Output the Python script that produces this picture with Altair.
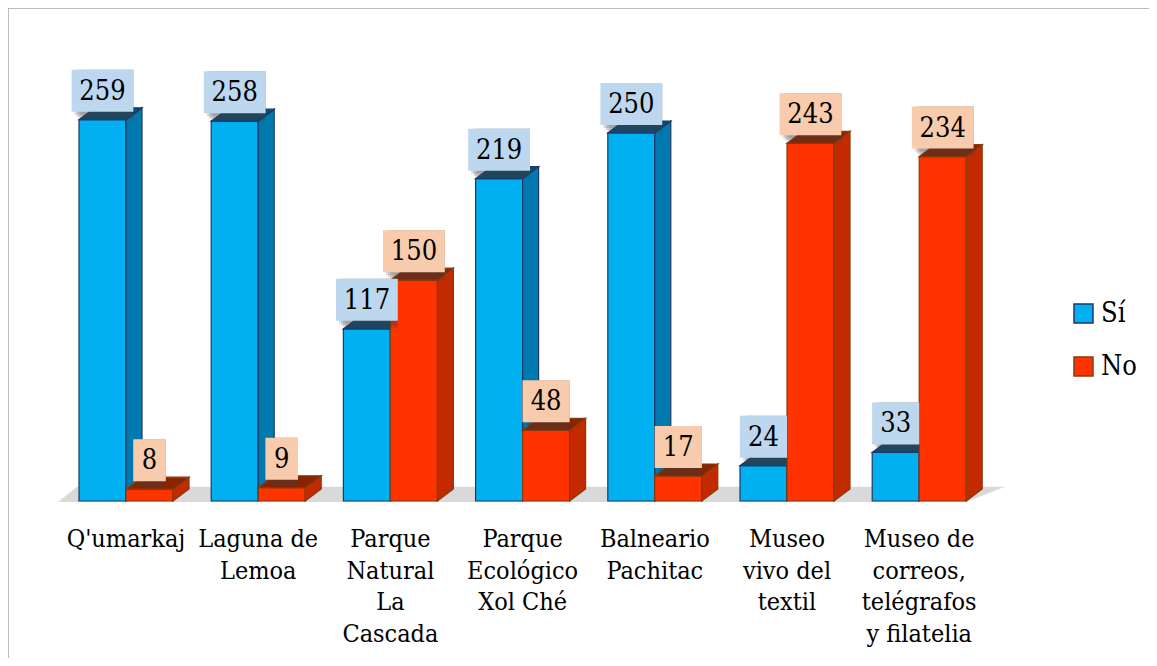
import altair as alt
import pandas as pd

# ---------------- data ----------------
categories = ["Q'umarkaj", "Laguna de\nLemoa", "Parque\nNatural\nLa\nCascada",
              "Parque\nEcológico\nXol Ché", "Balneario\nPachitac",
              "Museo\nvivo del\ntextil", "Museo de\ncorreos,\ntelégrafos\ny filatelia"]
series = ["Sí", "No"]
si_values = [259, 258, 117, 219, 250, 24, 33]
no_values = [8, 9, 150, 48, 17, 243, 234]

# ---------------- styling / geometry ----------------
FONT = "DejaVu Serif Condensed"
W, H = 1141, 650
PX_X, X0 = 132.2, 118      # px per category, px of first group centre
PX_Y, Y0 = 1.472, 493      # px per unit, px of baseline
x_dom = [-X0 / PX_X, (W - X0) / PX_X]
y_dom = [-(H - Y0) / PX_Y, Y0 / PX_Y]
BW = 47 / PX_X             # bar width
DX = 16 / PX_X             # depth (x)
DY = 12 / PX_Y             # depth (y)

front = {"Sí": "#00B0F0", "No": "#FF3300"}
side_c = {"Sí": "#0079AE", "No": "#C42A00"}
top_c = {"Sí": "#0E4A72", "No": "#8A2300"}
edge = {"Sí": "#1F3864", "No": "#843C0C"}
box_c = {"Sí": "#BDD7EE", "No": "#F8CBAD"}

xs = alt.Scale(domain=x_dom, nice=False, zero=False)
ys = alt.Scale(domain=y_dom, nice=False, zero=False)

bars, sides, tops = [], [], []
for i, cat in enumerate(categories):
    for s, vals in (("Sí", si_values), ("No", no_values)):
        v = vals[i]
        x1 = i - BW if s == "Sí" else i
        x2 = x1 + BW
        xc = (x1 + x2) / 2
        half = (9 + 7.3 * len(str(v))) / PX_X
        bid = f"{s}{i}"
        bars.append(dict(cat=cat, serie=s, bar=bid, v=v, zero=0, x1=x1, x2=x2, xc=xc,
                         label=str(v), bx1=xc - half, bx2=xc + half,
                         by1=v + 8 / PX_Y, by2=v + 50 / PX_Y))
        sides.append(dict(serie=s, bar=bid, sx=x2, slo=0, shi=v))
        sides.append(dict(serie=s, bar=bid, sx=x2 + DX, slo=DY, shi=v + DY))
        tops.append(dict(serie=s, bar=bid, ty=v, tl=x1, tr=x2))
        tops.append(dict(serie=s, bar=bid, ty=v + DY, tl=x1 + DX, tr=x2 + DX))

bars_df = pd.DataFrame(bars)
sides_df = pd.DataFrame(sides)
tops_df = pd.DataFrame(tops)

floor_df = pd.DataFrame({
    "fy": [-0.7, 9.6],
    "fl": [(58 - 126) / PX_X, (77 - 126) / PX_X],
    "fr": [(966 - 126) / PX_X, (1005 - 126) / PX_X],
})

cat_df = pd.DataFrame({"cat": categories, "xc": list(range(len(categories)))})

legend = alt.Legend(orient="none", legendX=1062, legendY=292, title=None,
                    symbolType="square", symbolSize=361, symbolStrokeWidth=1.5,
                    labelFont=FONT, labelFontSize=27, labelColor="black",
                    rowPadding=25, labelOffset=4)
fill_scale = alt.Scale(domain=series, range=[front[s] for s in series])
stroke_scale = alt.Scale(domain=series, range=[edge[s] for s in series])

layers = []

# floor
layers.append(
    alt.Chart(floor_df).mark_area(orient="horizontal", color="#D9D9D9").encode(
        y=alt.Y("fy:Q", scale=ys, axis=None, stack=None),
        x=alt.X("fl:Q", scale=xs, axis=None, stack=None),
        x2="fr:Q",
    )
)

for s in series:
    b = bars_df[bars_df.serie == s]
    sd = sides_df[sides_df.serie == s]
    tp = tops_df[tops_df.serie == s]
    layers.append(
        alt.Chart(b).mark_bar(strokeWidth=1.2).encode(
            x=alt.X("x1:Q", scale=xs, axis=None),
            x2="x2:Q",
            y=alt.Y("zero:Q", scale=ys, axis=None),
            y2="v:Q",
            fill=alt.Fill("serie:N", scale=fill_scale, legend=legend, sort=series),
            stroke=alt.Stroke("serie:N", scale=stroke_scale, legend=legend, sort=series),
        )
    )
    layers.append(
        alt.Chart(sd).mark_area(orient="vertical", color=side_c[s], stroke=edge[s],
                                strokeWidth=1.2).encode(
            x=alt.X("sx:Q", scale=xs, axis=None),
            y=alt.Y("slo:Q", scale=ys, axis=None, stack=None),
            y2="shi:Q",
            detail="bar:N",
        )
    )
    layers.append(
        alt.Chart(tp).mark_area(orient="horizontal", color=top_c[s], stroke=edge[s],
                                strokeWidth=1.2).encode(
            y=alt.Y("ty:Q", scale=ys, axis=None),
            x=alt.X("tl:Q", scale=xs, axis=None, stack=None),
            x2="tr:Q",
            detail="bar:N",
        )
    )

# value labels: shadows, boxes, text
box_enc = dict(
    x=alt.X("bx1:Q", scale=xs, axis=None), x2="bx2:Q",
    y=alt.Y("by1:Q", scale=ys, axis=None), y2="by2:Q",
)
for off, op in ((9, 0.10), (7, 0.14), (5, 0.18), (3, 0.18)):
    layers.append(
        alt.Chart(bars_df).mark_rect(color="#404040", opacity=op, xOffset=off, yOffset=off).encode(**box_enc)
    )
for s in series:
    layers.append(
        alt.Chart(bars_df[bars_df.serie == s]).mark_rect(color=box_c[s]).encode(**box_enc)
    )
layers.append(
    alt.Chart(bars_df).mark_text(font=FONT, fontSize=27, color="black", baseline="middle",
                                 align="center", dy=-28).encode(
        x=alt.X("xc:Q", scale=xs, axis=None),
        y=alt.Y("v:Q", scale=ys, axis=None),
        text="label:N",
    )
)

# category labels
layers.append(
    alt.Chart(cat_df).mark_text(font=FONT, fontSize=25, color="black", baseline="top",
                                align="center", lineBreak="\n", lineHeight=31.5).encode(
        x=alt.X("xc:Q", scale=xs, axis=None),
        y=alt.value(519),
        text="cat:N",
    )
)

# chart border (top and left edges visible)
layers.append(
    alt.Chart(cat_df.head(1)).mark_rule(color="#A6A6A6", strokeWidth=1.5).encode(
        x=alt.value(0), x2=alt.value(W), y=alt.value(0)
    )
)
layers.append(
    alt.Chart(cat_df.head(1)).mark_rule(color="#A6A6A6", strokeWidth=1.5).encode(
        x=alt.value(0), y=alt.value(0), y2=alt.value(H)
    )
)

chart = alt.layer(*layers).properties(
    width=W, height=H, padding=0, autosize=alt.AutoSizeParams(type="none")
).configure_view(stroke=None)

chart.save("out.html", embed_options={"renderer": "svg", "actions": False})
